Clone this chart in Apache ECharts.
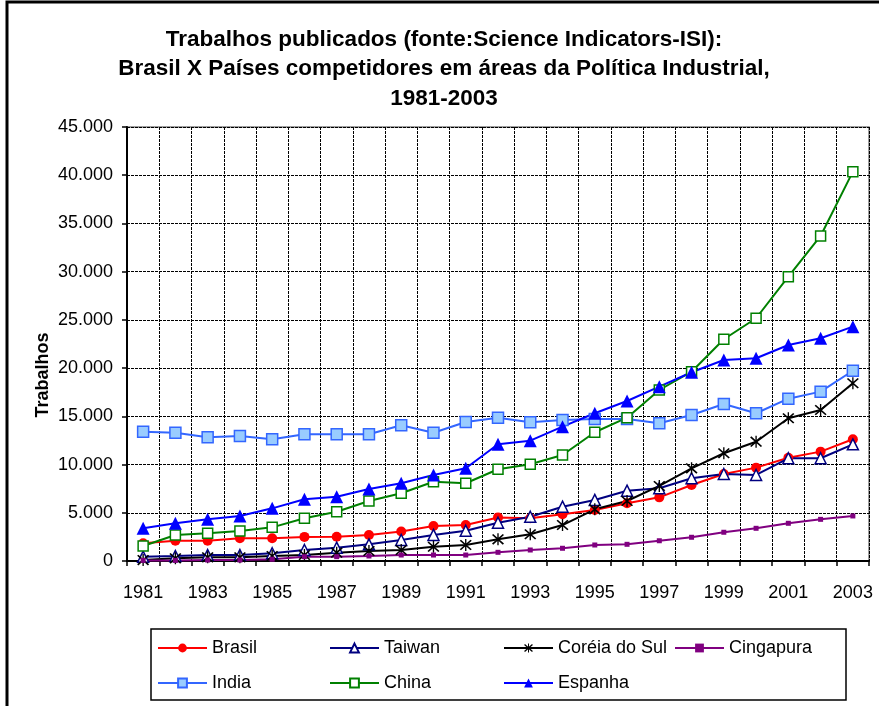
<!DOCTYPE html>
<html>
<head>
<meta charset="utf-8">
<script src="https://cdn.jsdelivr.net/npm/echarts@6/dist/echarts.min.js"></script>
<style>
html,body{margin:0;padding:0;background:#fff;}
#chart{width:879px;height:706px;}
</style>
</head>
<body>
<div id="chart"></div>
<script>
var years = ['1981','1982','1983','1984','1985','1986','1987','1988','1989','1990','1991','1992','1993','1994','1995','1996','1997','1998','1999','2000','2001','2002','2003'];
var brasil = [1840,2100,2100,2350,2350,2500,2520,2700,3050,3620,3730,4520,4430,4840,5290,5980,6600,7880,9020,9680,10710,11340,12620];
var taiwan = [450,520,620,620,800,1140,1380,1730,2180,2700,3140,3970,4590,5630,6330,7290,7540,8580,9020,8920,10650,10650,12100];
var coreia = [100,280,380,380,520,620,860,1040,1140,1480,1660,2250,2770,3730,5360,6220,7780,9610,11170,12370,14800,15660,18430];
var cingapura = [60,60,100,100,180,450,450,520,620,620,620,900,1140,1320,1660,1730,2100,2460,2980,3390,3910,4320,4670];
var india = [13410,13300,12830,12960,12620,13140,13140,13140,14070,13300,14410,14860,14380,14620,14730,14730,14280,15140,16280,15320,16830,17560,19730];
var china = [1560,2700,2870,3110,3490,4430,5110,6220,7020,8220,8060,9510,10030,10990,13350,14860,17730,19630,22990,25170,29480,33700,40370];
var espanha = [3390,3910,4320,4670,5460,6400,6670,7470,8060,8920,9610,12100,12480,13930,15320,16590,18080,19570,20840,21020,22400,23090,24300];
var seriesNames = ['Brasil','Taiwan','Coréia do Sul','Cingapura','India','China','Espanha'];
var titleText = 'Trabalhos publicados (fonte:Science Indicators-ISI):\nBrasil X Países competidores em áreas da Política Industrial,\n1981-2003';
var yAxisName = 'Trabalhos';

var FONT = "'Liberation Sans', Arial, Helvetica, sans-serif";
var asterisk = 'path://M9,0 L11,0 L11,20 L9,20 Z M1.1,2.9 L2.9,1.1 L18.9,17.1 L17.1,18.9 Z M17.1,1.1 L18.9,2.9 L2.9,18.9 L1.1,17.1 Z';

var styles = [
  {data: brasil, line: '#FF0000', symbol: 'circle', size: 10, fill: '#FF0000', border: '#FF0000', bw: 0},
  {data: taiwan, line: '#000080', symbol: 'triangle', size: 11, fill: '#FFFFFF', border: '#000080', bw: 1.5},
  {data: coreia, line: '#000000', symbol: asterisk, size: 12, fill: '#000000', border: '#000000', bw: 0},
  {data: cingapura, line: '#800080', symbol: 'rect', size: 5, fill: '#800080', border: '#800080', bw: 0},
  {data: india, line: '#3366FF', symbol: 'rect', size: 11, fill: '#99CCFF', border: '#3366FF', bw: 1.5},
  {data: china, line: '#008000', symbol: 'rect', size: 10, fill: '#FFFFFF', border: '#008000', bw: 1.5},
  {data: espanha, line: '#0000FF', symbol: 'triangle', size: 13, fill: '#0000FF', border: '#0000FF', bw: 0}
];

var series = styles.map(function (s, i) {
  return {
    name: seriesNames[i],
    type: 'line',
    data: s.data,
    symbol: s.symbol,
    symbolSize: s.size,
    showAllSymbol: true,
    lineStyle: {color: s.line, width: 2},
    itemStyle: {color: s.fill, borderColor: s.border, borderWidth: s.bw},
    emphasis: {disabled: true}
  };
});

var legendPos = [[157,639],[329,639],[503,639],[674,639],[157,674],[329,674],[503,674]];
var legends = seriesNames.map(function (n, i) {
  return {
    data: [n],
    left: legendPos[i][0],
    top: legendPos[i][1],
    itemWidth: 49,
    itemHeight: 11,
    selectedMode: false,
    padding: 0,
    textStyle: {fontFamily: FONT, fontSize: 18, color: '#000'}
  };
});

var chart = echarts.init(document.getElementById('chart'), null, {renderer: 'canvas'});
chart.setOption({
  animation: false,
  backgroundColor: '#fff',
  title: {
    text: titleText,
    left: 444,
    textAlign: 'center',
    top: 25,
    padding: 0,
    textStyle: {fontFamily: FONT, fontSize: 22.5, fontWeight: 'bold', color: '#000', lineHeight: 29.5}
  },
  legend: legends,
  grid: {left: 127, right: 10, top: 127, bottom: 145, show: true, borderColor: '#808080', borderWidth: 1.5, containLabel: false},
  xAxis: {
    type: 'category',
    data: years,
    boundaryGap: true,
    axisLine: {lineStyle: {color: '#000', width: 2}},
    axisTick: {show: true, interval: 0, length: 5, lineStyle: {color: '#000', width: 1.5}},
    axisLabel: {interval: 1, margin: 23, fontFamily: FONT, fontSize: 18, color: '#000'},
    splitLine: {show: true, interval: 0, lineStyle: {color: '#000', width: 1, type: [3, 1]}}
  },
  yAxis: {
    type: 'value',
    min: 0,
    max: 45000,
    interval: 5000,
    axisLine: {show: true, lineStyle: {color: '#000', width: 2}},
    axisTick: {show: true, length: 5, lineStyle: {color: '#000', width: 1.5}},
    axisLabel: {
      margin: 14, fontFamily: FONT, fontSize: 18, color: '#000',
      formatter: function (v) { return v.toString().replace(/\B(?=(\d{3})+(?!\d))/g, '.'); }
    },
    splitLine: {show: true, lineStyle: {color: '#000', width: 1, type: [3, 1]}}
  },
  graphic: [
    {type: 'rect', shape: {x: 7, y: 2, width: 1000, height: 1000}, style: {fill: 'none', stroke: '#000', lineWidth: 3}, silent: true, z: 100},
    {type: 'rect', shape: {x: 151, y: 629, width: 695, height: 71}, style: {fill: 'none', stroke: '#000', lineWidth: 1.5}, silent: true},
    {type: 'text', x: 43, y: 375, rotation: Math.PI / 2, style: {text: yAxisName, fontFamily: FONT, fontSize: 18, fontWeight: 'bold', fill: '#000', align: 'center', verticalAlign: 'middle'}, silent: true}
  ],
  series: series
});
</script>
</body>
</html>
